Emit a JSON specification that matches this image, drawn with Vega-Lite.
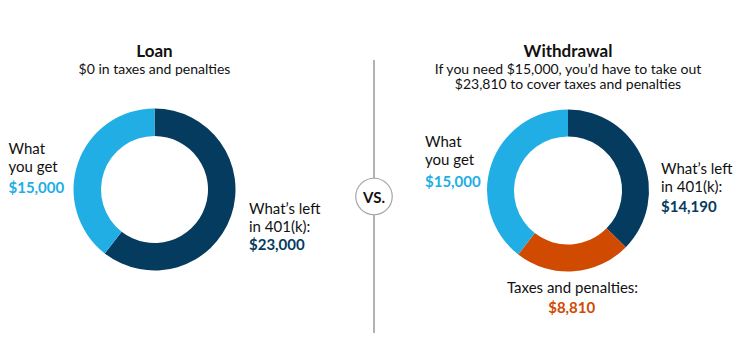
{
  "$schema": "https://vega.github.io/schema/vega-lite/v6.json",
  "background": "white",
  "padding": {"left": 0, "top": 43, "right": 0, "bottom": 0},
  "spacing": 0,
  "bounds": "flush",
  "config": {
    "view": {"stroke": null},
    "font": "Lato",
    "title": {"font": "Lato", "fontSize": 17, "fontWeight": "bold", "color": "#111111", "anchor": "middle",
              "subtitleFont": "Lato", "subtitleFontSize": 14, "subtitleColor": "#111111", "subtitlePadding": 2, "subtitleLineHeight": 15}
  },
  "datasets": {
    "loan": [
      {"part": "left", "label": "What’s left\nin 401(k):", "value": 23000, "ord": 1},
      {"part": "get", "label": "What\nyou get", "value": 15000, "ord": 2}
    ],
    "withdrawal": [
      {"part": "left", "label": "What’s left\nin 401(k):", "value": 14190, "ord": 1},
      {"part": "tax", "label": "Taxes and penalties:", "value": 8810, "ord": 2},
      {"part": "get", "label": "What\nyou get", "value": 15000, "ord": 3}
    ],
    "vs": [{"label": "VS."}]
  },
  "hconcat": [
    {
      "width": 309, "height": 259,
      "data": {"name": "loan"},
      "title": {"text": "Loan", "subtitle": "$0 in taxes and penalties", "offset": -18},
      "layer": [
        {"mark": {"type": "arc", "innerRadius": 53.5, "outerRadius": 81},
         "encoding": {
           "theta": {"field": "value", "type": "quantitative", "stack": true},
           "order": {"field": "ord", "type": "quantitative"},
           "color": {"field": "part", "type": "nominal", "legend": null,
                     "scale": {"domain": ["left", "get", "tax"], "range": ["#063b60", "#21aee4", "#d04a02"]}}
         }},
        {"transform": [{"filter": "datum.part == 'get'"}],
         "mark": {"type": "text", "align": "left", "baseline": "alphabetic", "dx": -146, "dy": -35.5, "fontSize": 15, "lineHeight": 18, "lineBreak": "\n", "color": "#111111"},
         "encoding": {"text": {"field": "label"}}},
        {"transform": [{"filter": "datum.part == 'get'"}],
         "mark": {"type": "text", "align": "left", "baseline": "alphabetic", "dx": -146, "dy": 3.8, "fontSize": 15, "fontWeight": "bold", "color": "#21aee4"},
         "encoding": {"text": {"field": "value", "type": "quantitative", "format": "$,.0f"}}},
        {"transform": [{"filter": "datum.part == 'left'"}],
         "mark": {"type": "text", "align": "left", "baseline": "alphabetic", "dx": 94.5, "dy": 24.5, "fontSize": 15, "lineHeight": 17.5, "lineBreak": "\n", "color": "#111111"},
         "encoding": {"text": {"field": "label"}}},
        {"transform": [{"filter": "datum.part == 'left'"}],
         "mark": {"type": "text", "align": "left", "baseline": "alphabetic", "dx": 94.5, "dy": 60.5, "fontSize": 15, "fontWeight": "bold", "color": "#063b60"},
         "encoding": {"text": {"field": "value", "type": "quantitative", "format": "$,.0f"}}}
      ]
    },
    {
      "width": 130, "height": 273,
      "data": {"name": "vs"},
      "layer": [
        {"mark": {"type": "rule", "color": "#999999", "strokeWidth": 1.5},
         "encoding": {"x": {"field": "label", "type": "nominal", "axis": null}}},
        {"mark": {"type": "point", "filled": true, "fill": "white", "stroke": "#a6a6a6", "strokeWidth": 1.2, "size": 1330, "opacity": 1, "shape": "circle"},
         "encoding": {"x": {"field": "label", "type": "nominal", "axis": null}}},
        {"mark": {"type": "text", "fontSize": 15, "fontWeight": "bold", "color": "#111111", "baseline": "middle", "align": "center", "dy": 1},
         "encoding": {"x": {"field": "label", "type": "nominal", "axis": null}, "text": {"field": "label"}}}
      ]
    },
    {
      "width": 258, "height": 261,
      "data": {"name": "withdrawal"},
      "title": {"text": "Withdrawal", "subtitle": ["If you need $15,000, you’d have to take out", "$23,810 to cover taxes and penalties"], "offset": -33},
      "layer": [
        {"mark": {"type": "arc", "innerRadius": 54, "outerRadius": 81},
         "encoding": {
           "theta": {"field": "value", "type": "quantitative", "stack": true},
           "order": {"field": "ord", "type": "quantitative"},
           "color": {"field": "part", "type": "nominal", "legend": null,
                     "scale": {"domain": ["left", "get", "tax"], "range": ["#063b60", "#21aee4", "#d04a02"]}}
         }},
        {"transform": [{"filter": "datum.part == 'get'"}],
         "mark": {"type": "text", "align": "left", "baseline": "alphabetic", "dx": -143, "dy": -43.2, "fontSize": 15, "lineHeight": 18, "lineBreak": "\n", "color": "#111111"},
         "encoding": {"text": {"field": "label"}}},
        {"transform": [{"filter": "datum.part == 'get'"}],
         "mark": {"type": "text", "align": "left", "baseline": "alphabetic", "dx": -143, "dy": -3.8, "fontSize": 15, "fontWeight": "bold", "color": "#21aee4"},
         "encoding": {"text": {"field": "value", "type": "quantitative", "format": "$,.0f"}}},
        {"transform": [{"filter": "datum.part == 'left'"}],
         "mark": {"type": "text", "align": "left", "baseline": "alphabetic", "dx": 93, "dy": -16.5, "fontSize": 15, "lineHeight": 17.5, "lineBreak": "\n", "color": "#111111"},
         "encoding": {"text": {"field": "label"}}},
        {"transform": [{"filter": "datum.part == 'left'"}],
         "mark": {"type": "text", "align": "left", "baseline": "alphabetic", "dx": 93, "dy": 21.2, "fontSize": 15, "fontWeight": "bold", "color": "#063b60"},
         "encoding": {"text": {"field": "value", "type": "quantitative", "format": "$,.0f"}}},
        {"transform": [{"filter": "datum.part == 'tax'"}],
         "mark": {"type": "text", "align": "center", "baseline": "alphabetic", "dx": 4.5, "dy": 102.8, "fontSize": 15, "color": "#111111"},
         "encoding": {"text": {"field": "label"}}},
        {"transform": [{"filter": "datum.part == 'tax'"}],
         "mark": {"type": "text", "align": "center", "baseline": "alphabetic", "dx": 3.7, "dy": 122.8, "fontSize": 15, "fontWeight": "bold", "color": "#d04a02"},
         "encoding": {"text": {"field": "value", "type": "quantitative", "format": "$,.0f"}}}
      ]
    }
  ]
}
